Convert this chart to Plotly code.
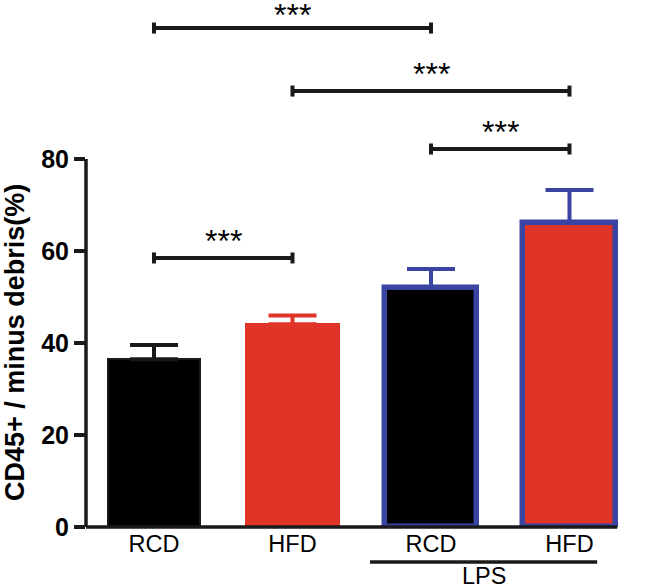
import plotly.graph_objects as go

# ---- data ----
categories = ["RCD", "HFD", "RCD", "HFD"]
means = [36.5, 44.1, 52.0, 66.2]
sem = [3.1, 1.9, 4.1, 7.1]
group_label = "LPS"
lps_members = [2, 3]
# significance comparisons: (bar i, bar j, bracket height in y units, label)
comparisons = [(0, 2, 108.5, "***"), (1, 3, 94.8, "***"), (2, 3, 82.2, "***"), (0, 1, 58.5, "***")]
y_ticks = [0, 20, 40, 60, 80]
y_title = "CD45+ / minus debris(%)"

# ---- styles ----
RED = "#df3427"
BLUE = "#3a44a2"
DARK = "#1a1a1a"
fills = ["#000000", RED, "#000000", RED]
outlines = [DARK, RED, BLUE, BLUE]
outline_w = [2, 2, 5.5, 5.5]
err_colors = [DARK, RED, BLUE, BLUE]
FONT = "Liberation Sans, Arial, Helvetica, sans-serif"
BAR_W = 0.67
XR = [-0.491, 3.408]
YR = [0, 114.6]

fig = go.Figure()
xs = list(range(len(categories)))
for i in xs:
    fig.add_trace(go.Bar(
        x=[xs[i]], y=[means[i]], width=BAR_W,
        marker=dict(color=fills[i], line=dict(color=outlines[i], width=outline_w[i])),
        error_y=dict(type="data", symmetric=False, array=[sem[i]], arrayminus=[0],
                     color=err_colors[i], thickness=4, width=24),
        showlegend=False, hoverinfo="skip",
    ))

shapes = []
# y axis line (0..80)
shapes.append(dict(type="line", xref="paper", yref="y", x0=0, x1=0, y0=0, y1=max(y_ticks),
                   line=dict(color=DARK, width=3.5)))
# x axis line
shapes.append(dict(type="line", xref="x", yref="paper", x0=XR[0], x1=xs[-1] + BAR_W / 2 + 0.01,
                   y0=0, y1=0, line=dict(color=DARK, width=3.5)))
annotations = []
cap = 1.2
top_level = max(c[2] for c in comparisons)
for (i, j, h, lab) in comparisons:
    for (a0, a1, b0, b1) in [(xs[i], xs[j], h, h), (xs[i], xs[i], h - cap, h + cap), (xs[j], xs[j], h - cap, h + cap)]:
        shapes.append(dict(type="line", xref="x", yref="y", x0=a0, x1=a1, y0=b0, y1=b1,
                           line=dict(color=DARK, width=4)))
    annotations.append(dict(x=(xs[i] + xs[j]) / 2, y=h, xref="x", yref="y", text=lab,
                            showarrow=False, yanchor="bottom",
                            yshift=-7 if h == top_level else -3,
                            font=dict(family=FONT, size=32, color="#000000")))

# LPS group line & label
gx0 = xs[lps_members[0]] - 0.44
gx1 = xs[lps_members[-1]] + 0.2
shapes.append(dict(type="line", xref="x", yref="paper", x0=gx0, x1=gx1, y0=-0.0664, y1=-0.0664,
                   line=dict(color=DARK, width=3.5)))
annotations.append(dict(x=(gx0 + gx1) / 2, y=-0.0664, xref="x", yref="paper", text=group_label,
                        showarrow=False, yanchor="top", yshift=1, height=22, valign="top",
                        font=dict(family=FONT, size=23.5, color="#000000")))
# y title
annotations.append(dict(x=0, y=max(y_ticks) / 2, xref="paper", yref="y", text="<b>" + y_title + "</b>",
                        textangle=-90, showarrow=False, xanchor="center", yanchor="middle", xshift=-71,
                        font=dict(family=FONT, size=27, color="#000000")))

fig.update_layout(
    width=646, height=588,
    margin=dict(l=86, r=20, t=0, b=61),
    paper_bgcolor="white", plot_bgcolor="white",
    shapes=shapes, annotations=annotations,
    bargap=0,
    xaxis=dict(range=XR, tickvals=xs, ticktext=categories, showgrid=False, zeroline=False,
               showline=False, ticks="", tickfont=dict(family=FONT, size=23.5, color="#000000")),
    yaxis=dict(range=YR, tickvals=y_ticks, showgrid=False, zeroline=False, showline=False,
               ticks="outside", ticklen=11, tickwidth=3.5, tickcolor=DARK,
               tickfont=dict(family=FONT, size=25, color="#000000", weight="bold")),
)
fig.write_html("out.html", config={"displayModeBar": False},
               post_script="document.body.style.margin='0';document.body.style.padding='0';")
